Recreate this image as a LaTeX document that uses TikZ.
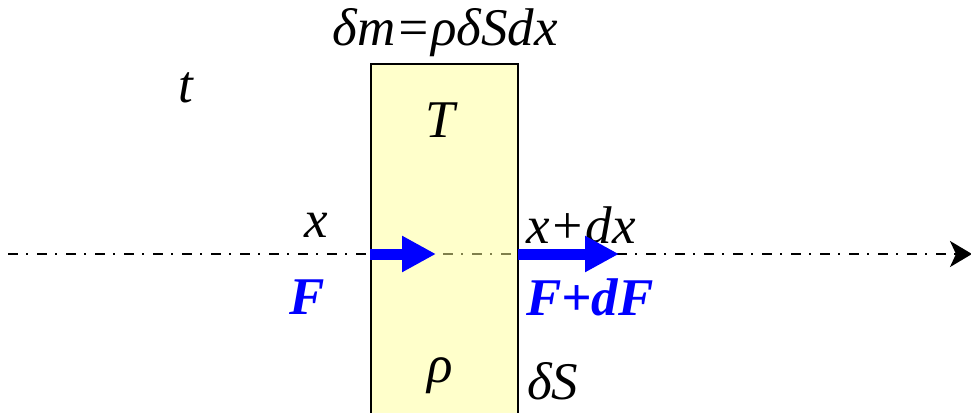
\documentclass[tikz,border=0pt]{standalone}
\usepackage{fontspec}
\setmainfont{Liberation Serif}
\usetikzlibrary{arrows.meta}

\definecolor{slabfill}{RGB}{255,255,153}
\definecolor{forceblue}{RGB}{0,0,255}

\tikzset{
  lbl/.style={font=\fontsize{53}{58}\selectfont\itshape, inner sep=0pt},
  forcelbl/.style={font=\fontsize{53}{58}\selectfont\bfseries\itshape, text=forceblue, inner sep=0pt},
  force/.style={forceblue, line width=11pt, -{Triangle[length=34pt,width=34pt]}},
  axis/.style={line width=2.5pt, dash pattern=on 10pt off 8pt on 2pt off 9pt,
    -{Stealth[length=22pt,width=26pt,inset=6pt]}}
}

\begin{document}
\begin{tikzpicture}[x=1pt,y=-1pt]

\useasboundingbox[fill=white] (0,0) rectangle (971,412);

%%%%%%%%%%%%%%%%%%%%%%%%%%%%%%%%%%%%%%%%%%%%%%%%%%%%%%%%%%%%%%
% AXIS
%%%%%%%%%%%%%%%%%%%%%%%%%%%%%%%%%%%%%%%%%%%%%%%%%%%%%%%%%%%%%%

\coordinate (axisstart) at (8,254);
\coordinate (axisend) at (972,254);

\draw[axis] (axisstart) -- (axisend);

%%%%%%%%%%%%%%%%%%%%%%%%%%%%%%%%%%%%%%%%%%%%%%%%%%%%%%%%%%%%%%
% SLAB
%%%%%%%%%%%%%%%%%%%%%%%%%%%%%%%%%%%%%%%%%%%%%%%%%%%%%%%%%%%%%%

\node[
draw,
line width=2pt,
fill=slabfill,
fill opacity=0.5,
draw opacity=1,
minimum width=147pt,
minimum height=380pt,
anchor=north west,
inner sep=0pt
](slab)
at (370,63)
{};

\node[lbl](mass) at (445,33) {δm=ρδSdx};

\node[lbl](temp) at (440,120) {T};
\node[lbl](dens) at (440,376) {ρ};
\node[lbl,anchor=west](area) at (527,381) {δS};
\node[lbl](time) at (186,88) {t};

%%%%%%%%%%%%%%%%%%%%%%%%%%%%%%%%%%%%%%%%%%%%%%%%%%%%%%%%%%%%%%
% POSITIONS AND FORCES
%%%%%%%%%%%%%%%%%%%%%%%%%%%%%%%%%%%%%%%%%%%%%%%%%%%%%%%%%%%%%%

\node[lbl](xleft) at (316,225) {x};
\node[lbl,anchor=west](xright) at (526,225) {x+dx};

\node[forcelbl](fleft) at (307,297) {F};
\node[forcelbl,anchor=west](fright) at (526,297) {F+dF};

\coordinate (fleftstart) at (370,254);
\coordinate (fleftend) at (436,254);
\coordinate (frightstart) at (518,254);
\coordinate (frightend) at (619,254);

\draw[force] (fleftstart) -- (fleftend);
\draw[force] (frightstart) -- (frightend);

\end{tikzpicture}
\end{document}
